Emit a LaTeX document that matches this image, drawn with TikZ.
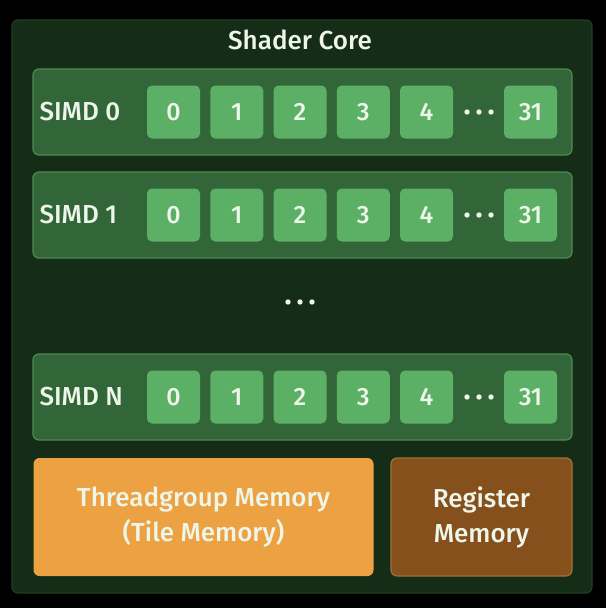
\documentclass[tikz,border=0pt]{standalone}
\usepackage{fontspec}
\setmainfont{Fira Sans Medium}
\usepackage{tikz}
\usetikzlibrary{positioning}
\definecolor{coregreen}{RGB}{21,44,23}
\definecolor{coreedge}{RGB}{32,62,35}
\definecolor{rowgreen}{RGB}{50,102,56}
\definecolor{rowedge}{RGB}{78,138,84}
\definecolor{lanegreen}{RGB}{92,176,102}
\definecolor{tileorange}{RGB}{236,162,66}
\definecolor{regbrown}{RGB}{133,80,28}
\definecolor{regedge}{RGB}{165,112,58}
\definecolor{softwhite}{RGB}{238,246,234}
\tikzstyle{lbl}=[text=softwhite, font=\fontsize{26}{35}\selectfont]

\begin{document}
\begin{tikzpicture}[x=1pt, y=-1pt,
                    simdrow/.style={draw=rowedge, line width=1.2pt, fill=rowgreen, rounded corners=6pt,
                                    minimum width=539pt, minimum height=86pt},
                    lane/.style={lbl, font=\fontsize{25}{30}\selectfont, fill=lanegreen,
                                 rounded corners=5pt, inner sep=0pt,
                                 minimum width=53pt, minimum height=53pt},
                    membox/.style={lbl, rounded corners=6pt, align=center, inner sep=0pt,
                                   minimum height=118pt}]
    \fill[black] (0,0) rectangle (606,608);
    \useasboundingbox (0,0) rectangle (606,608);
    \node[draw=coreedge, line width=1.2pt, fill=coregreen, rounded corners=6pt,
          minimum width=580pt, minimum height=573pt] (core) at (302,306.5) {};
    \node[lbl] (title) at (300,40) {Shader Core};
    % SIMD rows
    \foreach \s/\y in {0/112, 1/215, N/397}{
      \node[simdrow] (simd\s) at (302.5,\y) {};
      \node[lbl, anchor=west] (simd\s-name) at (36,\y) {SIMD \s};
      \foreach \n [count = \i] in {0,1,2,3,4}{
        \node[lane] (simd\s-lane\n) at ({173.5+(\i-1)*63.25},\y) {\n};
      }
      \node[lane] (simd\s-lane31) at (530.5,\y) {31};
      \foreach \dx in {-12,0,12}
        \fill[softwhite] (479+\dx,\y) circle (2.7);
    }
    \foreach \dx in {-12,0,12}
      \fill[softwhite] (300+\dx,302) circle (2.7);
    % memories
    \node[membox, fill=tileorange, minimum width=340pt] (tile) at (203.5,517) {Threadgroup Memory\\(Tile Memory)};
    \node[membox, draw=regedge, line width=1.2pt, fill=regbrown, minimum width=181pt] (reg) at (481.5,517) {Register\\Memory};
\end{tikzpicture}
\end{document}
